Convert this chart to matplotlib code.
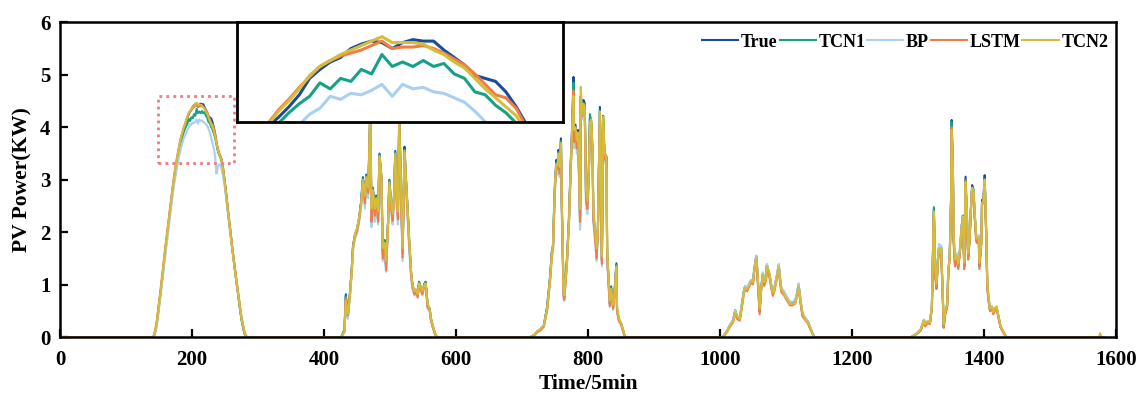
import numpy as np
import matplotlib
matplotlib.use("Agg")
import matplotlib.pyplot as plt
from matplotlib.patches import Rectangle

plt.rcParams['font.family'] = ['Liberation Serif', 'DejaVu Serif']
plt.rcParams['font.weight'] = 'bold'

# ---- data (time index in 5 min steps, power in kW) ----
series_names = ["True", "TCN1", "BP", "LSTM", "TCN2"]
series_colors = ["#1a4c9e", "#16a085", "#a9cff2", "#f07d45", "#d5bd3b"]

# day 1 (clear sky)
t_day1 = np.arange(141, 287, 2)
true_day1 = [0.0, 0.05, 0.15, 0.30, 0.50, 0.72, 0.92, 1.14, 1.37, 1.60,
             1.81, 2.02, 2.23, 2.44, 2.65, 2.86, 3.04, 3.20, 3.36, 3.50,
             3.63, 3.76, 3.87, 3.93, 4.00, 4.08, 4.19, 4.25, 4.30, 4.33,
             4.39, 4.42, 4.44, 4.43, 4.39, 4.43, 4.45, 4.44, 4.44, 4.38,
             4.33, 4.28, 4.21, 4.19, 4.17, 4.10, 4.00, 3.88, 3.72, 3.58,
             3.50, 3.45, 3.38, 3.22, 3.02, 2.82, 2.58, 2.35, 2.15, 1.92,
             1.70, 1.50, 1.30, 1.10, 0.92, 0.72, 0.52, 0.35, 0.22, 0.10,
             0.03, 0.0, 0.0]
tcn1_day1 = [0.0, 0.05, 0.15, 0.30, 0.50, 0.71, 0.91, 1.13, 1.36, 1.58,
             1.79, 2.00, 2.21, 2.42, 2.62, 2.82, 3.00, 3.16, 3.31, 3.45,
             3.58, 3.70, 3.80, 3.89, 3.96, 4.02, 4.07, 4.16, 4.12, 4.19,
             4.17, 4.25, 4.22, 4.35, 4.27, 4.30, 4.27, 4.31, 4.27, 4.29,
             4.22, 4.19, 4.10, 4.08, 4.01, 3.96, 3.89, 3.80, 3.68, 3.56,
             3.48, 3.42, 3.34, 3.19, 2.99, 2.79, 2.56, 2.33, 2.12, 1.90,
             1.68, 1.48, 1.28, 1.08, 0.90, 0.71, 0.51, 0.34, 0.21, 0.10,
             0.03, 0.0, 0.0]
bp_day1 = [0.0, 0.04, 0.12, 0.26, 0.45, 0.66, 0.86, 1.07, 1.29, 1.51,
           1.72, 1.93, 2.14, 2.34, 2.54, 2.73, 2.91, 3.07, 3.22, 3.36,
           3.48, 3.59, 3.69, 3.77, 3.84, 3.88, 3.95, 3.99, 4.07, 4.05,
           4.09, 4.08, 4.11, 4.15, 4.07, 4.15, 4.12, 4.13, 4.10, 4.09,
           4.06, 4.03, 3.97, 3.90, 3.80, 3.70, 3.60, 3.45, 3.12, 3.25,
           3.30, 3.28, 3.20, 3.08, 2.92, 2.73, 2.52, 2.30, 2.10, 1.89,
           1.68, 1.49, 1.30, 1.11, 0.93, 0.75, 0.56, 0.39, 0.26, 0.14,
           0.06, 0.02, 0.0]
lstm_day1 = [0.0, 0.07, 0.19, 0.35, 0.56, 0.78, 0.98, 1.20, 1.43, 1.66,
             1.87, 2.08, 2.29, 2.50, 2.70, 2.90, 3.09, 3.26, 3.41, 3.55,
             3.68, 3.80, 3.89, 3.98, 4.05, 4.13, 4.20, 4.27, 4.31, 4.34,
             4.36, 4.38, 4.41, 4.44, 4.39, 4.40, 4.40, 4.41, 4.39, 4.36,
             4.32, 4.28, 4.22, 4.15, 4.08, 4.06, 3.99, 3.86, 3.72, 3.60,
             3.52, 3.46, 3.37, 3.22, 3.03, 2.83, 2.60, 2.37, 2.16, 1.94,
             1.72, 1.52, 1.32, 1.12, 0.94, 0.75, 0.55, 0.38, 0.25, 0.13,
             0.05, 0.01, 0.0]
tcn2_day1 = [0.0, 0.06, 0.17, 0.33, 0.53, 0.75, 0.95, 1.17, 1.40, 1.63,
             1.84, 2.05, 2.26, 2.47, 2.68, 2.88, 3.07, 3.24, 3.40, 3.54,
             3.67, 3.79, 3.88, 3.97, 4.04, 4.12, 4.21, 4.27, 4.31, 4.35,
             4.38, 4.41, 4.44, 4.47, 4.43, 4.43, 4.43, 4.42, 4.38, 4.35,
             4.30, 4.26, 4.19, 4.12, 4.06, 4.00, 3.94, 3.83, 3.70, 3.58,
             3.50, 3.43, 3.35, 3.20, 3.00, 2.80, 2.57, 2.34, 2.13, 1.90,
             1.69, 1.49, 1.29, 1.09, 0.91, 0.72, 0.53, 0.36, 0.23, 0.12,
             0.04, 0.0, 0.0]

# day 2
t_day2 = [426, 431, 433, 436, 439, 442, 444, 447, 450, 453,
          456, 459, 462, 464, 467, 468, 470, 472, 474, 477,
          479, 482, 484, 487, 489, 492, 494, 497, 499, 502,
          504, 506, 508, 510, 512, 514, 517, 519, 522, 524,
          527, 529, 532, 534, 537, 539, 542, 544, 547, 549,
          552, 554, 557, 560, 562, 565, 568, 571]
true_day2 = [0.0, 0.15, 0.82, 0.38, 0.80, 1.30, 1.75, 1.95, 2.05, 2.25,
             2.55, 3.05, 2.60, 3.10, 2.80, 3.30, 4.30, 2.30, 2.85, 2.40,
             2.70, 2.30, 3.50, 3.05, 1.60, 1.85, 1.35, 2.20, 3.00, 2.50,
             2.30, 2.70, 3.55, 2.70, 2.35, 4.27, 2.68, 1.60, 3.63, 3.06,
             2.36, 1.85, 1.22, 1.00, 0.85, 0.90, 0.80, 1.06, 0.93, 0.85,
             1.02, 1.06, 0.60, 0.55, 0.35, 0.20, 0.08, 0.0]
tcn1_day2 = [0.0, 0.14, 0.78, 0.40, 0.79, 1.29, 1.74, 1.96, 2.06, 2.26,
             2.56, 3.02, 2.62, 3.08, 2.82, 3.28, 4.22, 2.35, 2.83, 2.42,
             2.68, 2.33, 3.48, 3.02, 1.62, 1.84, 1.38, 2.18, 2.98, 2.48,
             2.32, 2.68, 3.52, 2.68, 2.38, 4.18, 2.66, 1.62, 3.58, 3.04,
             2.36, 1.84, 1.22, 1.00, 0.85, 0.90, 0.80, 1.05, 0.92, 0.85,
             1.01, 1.05, 0.60, 0.55, 0.35, 0.20, 0.08, 0.0]
bp_day2 = [0.0, 0.12, 0.70, 0.35, 0.72, 1.20, 1.65, 1.88, 1.98, 2.18,
           2.45, 2.90, 2.45, 2.98, 2.65, 3.15, 4.05, 2.10, 2.70, 2.20,
           2.55, 2.15, 3.35, 2.90, 1.45, 1.70, 1.25, 2.05, 2.85, 2.35,
           2.15, 2.55, 3.40, 2.50, 2.15, 4.05, 2.45, 1.45, 3.45, 2.90,
           2.20, 1.70, 1.12, 0.92, 0.80, 0.85, 0.75, 1.00, 0.88, 0.80,
           0.96, 1.00, 0.55, 0.50, 0.32, 0.18, 0.07, 0.0]
lstm_day2 = [0.0, 0.12, 0.75, 0.42, 0.78, 1.28, 1.72, 1.93, 2.02, 2.22,
             2.52, 2.98, 2.55, 3.05, 2.75, 3.22, 4.20, 2.20, 2.78, 2.32,
             2.62, 2.20, 3.42, 2.95, 1.50, 1.78, 1.28, 2.12, 2.92, 2.42,
             2.22, 2.62, 3.45, 2.60, 2.25, 4.15, 2.58, 1.52, 3.52, 2.98,
             2.28, 1.78, 1.18, 0.96, 0.82, 0.87, 0.77, 1.02, 0.90, 0.82,
             0.98, 1.02, 0.57, 0.52, 0.33, 0.19, 0.07, 0.0]
tcn2_day2 = [0.0, 0.10, 0.70, 0.45, 0.75, 1.25, 1.70, 1.98, 2.08, 2.28,
             2.50, 3.00, 2.70, 3.05, 2.85, 3.25, 4.39, 2.45, 2.80, 2.45,
             2.65, 2.40, 3.45, 3.10, 1.70, 1.80, 1.45, 2.15, 2.95, 2.55,
             2.35, 2.65, 3.50, 2.75, 2.40, 4.10, 2.75, 1.70, 3.55, 3.10,
             2.40, 1.90, 1.25, 1.02, 0.88, 0.92, 0.82, 1.03, 0.95, 0.88,
             1.00, 1.03, 0.65, 0.55, 0.38, 0.22, 0.10, 0.0]

# day 3
t_day3 = [712, 719, 723, 728, 733, 738, 743, 745, 747, 749,
          750, 752, 754, 755, 757, 759, 760, 763, 764, 768,
          771, 774, 776, 778, 779, 781, 783, 785, 788, 789,
          791, 793, 795, 797, 799, 801, 803, 805, 807, 808,
          810, 813, 815, 818, 819, 821, 823, 825, 828, 829,
          833, 835, 838, 840, 843, 844, 847, 850, 855, 857]
true_day3 = [0.0, 0.05, 0.11, 0.15, 0.22, 0.58, 1.22, 1.62, 1.75, 2.62,
             2.93, 3.38, 3.25, 3.57, 3.19, 3.79, 2.74, 0.84, 0.77, 1.47,
             2.23, 3.38, 4.01, 4.96, 3.82, 4.05, 3.69, 3.95, 2.30, 4.60,
             4.33, 4.52, 4.46, 2.74, 2.55, 3.06, 4.20, 4.10, 3.50, 2.36,
             2.11, 1.60, 2.11, 4.39, 3.38, 1.47, 4.10, 3.50, 3.44, 1.60,
             0.65, 0.97, 0.58, 0.84, 1.41, 0.52, 0.33, 0.27, 0.05, 0.0]
tcn1_day3 = [0.0, 0.05, 0.11, 0.15, 0.22, 0.56, 1.20, 1.60, 1.74, 2.58,
             2.90, 3.33, 3.22, 3.53, 3.16, 3.74, 2.70, 0.82, 0.76, 1.45,
             2.20, 3.33, 3.96, 4.85, 3.78, 4.00, 3.65, 3.90, 2.10, 4.55,
             4.28, 4.46, 4.40, 2.70, 2.52, 3.02, 4.25, 4.05, 3.45, 2.32,
             2.08, 1.58, 2.08, 4.32, 3.34, 1.45, 4.22, 3.46, 3.40, 1.58,
             0.64, 0.95, 0.57, 0.82, 1.38, 0.51, 0.32, 0.26, 0.05, 0.0]
bp_day3 = [0.0, 0.04, 0.10, 0.13, 0.20, 0.50, 1.10, 1.50, 1.65, 2.45,
           2.80, 3.20, 3.10, 3.40, 3.05, 3.60, 2.55, 0.75, 0.70, 1.35,
           2.10, 3.20, 3.85, 4.60, 3.60, 3.85, 3.50, 3.75, 2.05, 4.40,
           4.15, 4.30, 4.25, 2.55, 2.35, 2.90, 3.95, 3.90, 3.30, 2.20,
           1.95, 1.45, 1.95, 4.15, 3.20, 1.35, 3.95, 3.35, 3.25, 1.45,
           0.58, 0.88, 0.52, 0.78, 1.30, 0.48, 0.30, 0.24, 0.04, 0.0]
lstm_day3 = [0.0, 0.05, 0.10, 0.14, 0.21, 0.52, 1.15, 1.55, 1.70, 2.50,
             2.88, 3.25, 3.20, 3.48, 3.12, 3.68, 2.65, 0.78, 0.72, 1.40,
             2.15, 3.28, 3.92, 4.70, 3.72, 3.95, 3.60, 3.85, 2.20, 4.55,
             4.22, 4.40, 4.35, 2.60, 2.45, 2.98, 4.05, 4.00, 3.40, 2.25,
             2.00, 1.50, 2.02, 4.25, 3.28, 1.40, 4.00, 3.40, 3.35, 1.52,
             0.60, 0.92, 0.55, 0.80, 1.35, 0.50, 0.31, 0.25, 0.04, 0.0]
tcn2_day3 = [0.0, 0.06, 0.12, 0.16, 0.24, 0.55, 1.18, 1.58, 1.78, 2.55,
             2.98, 3.30, 3.28, 3.50, 3.25, 3.70, 2.85, 0.95, 0.80, 1.40,
             2.18, 3.30, 4.05, 4.60, 3.95, 4.00, 3.75, 3.90, 2.45, 4.77,
             4.25, 4.45, 4.40, 2.85, 2.60, 3.00, 4.10, 4.15, 3.55, 2.45,
             2.15, 1.70, 2.05, 4.30, 3.45, 1.55, 4.20, 3.55, 3.40, 1.70,
             0.70, 0.92, 0.62, 0.80, 1.35, 0.58, 0.36, 0.28, 0.06, 0.0]

# day 4 (overcast)
t_day4 = [1002, 1005, 1010, 1015, 1020, 1023, 1026, 1030, 1033, 1036,
          1038, 1041, 1045, 1047, 1050, 1052, 1055, 1057, 1060, 1062,
          1065, 1067, 1070, 1071, 1075, 1077, 1080, 1082, 1086, 1089,
          1091, 1093, 1097, 1100, 1103, 1106, 1110, 1114, 1117, 1119,
          1122, 1125, 1129, 1133, 1137, 1140, 1143]
true_day4 = [0.0, 0.02, 0.11, 0.23, 0.33, 0.52, 0.39, 0.36, 0.62, 0.87,
             0.97, 0.93, 1.03, 1.09, 1.06, 1.31, 1.54, 1.16, 0.49, 0.90,
             1.22, 1.03, 1.16, 1.38, 1.19, 1.03, 0.84, 0.90, 1.16, 1.38,
             1.09, 0.90, 0.84, 0.77, 0.71, 0.65, 0.65, 0.68, 0.84, 1.00,
             0.68, 0.43, 0.36, 0.30, 0.17, 0.08, 0.0]
tcn1_day4 = [0.0, 0.02, 0.11, 0.23, 0.33, 0.50, 0.39, 0.36, 0.61, 0.86,
             0.97, 0.94, 1.03, 1.09, 1.06, 1.30, 1.55, 1.17, 0.50, 0.90,
             1.22, 1.04, 1.17, 1.38, 1.19, 1.04, 0.85, 0.91, 1.16, 1.37,
             1.10, 0.92, 0.86, 0.79, 0.73, 0.67, 0.67, 0.70, 0.85, 1.01,
             0.70, 0.44, 0.37, 0.30, 0.17, 0.08, 0.0]
bp_day4 = [0.0, 0.03, 0.12, 0.24, 0.34, 0.52, 0.41, 0.38, 0.63, 0.88,
           0.98, 0.95, 1.05, 1.10, 1.08, 1.32, 1.56, 1.19, 0.52, 0.92,
           1.24, 1.06, 1.18, 1.40, 1.21, 1.06, 0.87, 0.93, 1.18, 1.40,
           1.12, 0.94, 0.88, 0.80, 0.74, 0.68, 0.68, 0.72, 0.88, 1.03,
           0.72, 0.46, 0.38, 0.31, 0.18, 0.09, 0.0]
lstm_day4 = [0.0, 0.01, 0.09, 0.20, 0.29, 0.46, 0.35, 0.32, 0.56, 0.82,
             0.92, 0.88, 0.98, 1.04, 1.01, 1.26, 1.49, 1.10, 0.44, 0.85,
             1.18, 0.98, 1.10, 1.33, 1.14, 0.98, 0.79, 0.86, 1.10, 1.32,
             1.04, 0.86, 0.80, 0.73, 0.67, 0.61, 0.61, 0.64, 0.80, 0.96,
             0.64, 0.40, 0.33, 0.27, 0.15, 0.07, 0.0]
tcn2_day4 = [0.0, 0.02, 0.10, 0.22, 0.31, 0.48, 0.40, 0.35, 0.58, 0.84,
             0.95, 0.92, 1.00, 1.07, 1.05, 1.28, 1.52, 1.20, 0.55, 0.86,
             1.20, 1.05, 1.12, 1.35, 1.22, 1.02, 0.85, 0.88, 1.12, 1.34,
             1.12, 0.92, 0.82, 0.75, 0.70, 0.64, 0.63, 0.66, 0.80, 0.97,
             0.70, 0.45, 0.35, 0.29, 0.17, 0.08, 0.0]

# day 5
t_day5 = [1289, 1299, 1304, 1309, 1311, 1315, 1318, 1321, 1324, 1326,
          1328, 1330, 1332, 1334, 1335, 1338, 1339, 1341, 1344, 1346,
          1348, 1350, 1351, 1353, 1354, 1356, 1359, 1361, 1364, 1366,
          1368, 1370, 1372, 1374, 1376, 1378, 1380, 1382, 1384, 1386,
          1388, 1389, 1392, 1393, 1396, 1397, 1399, 1401, 1403, 1405,
          1407, 1409, 1412, 1414, 1417, 1419, 1422, 1425, 1429, 1434]
true_day5 = [0.0, 0.08, 0.14, 0.33, 0.23, 0.30, 0.27, 0.58, 2.43, 1.22,
             0.97, 1.47, 1.73, 1.60, 1.73, 0.58, 0.20, 0.46, 0.58, 1.28,
             1.54, 2.62, 4.14, 3.00, 1.85, 1.41, 1.54, 1.35, 1.73, 2.11,
             2.30, 1.35, 3.06, 2.30, 1.54, 1.85, 2.43, 2.90, 2.81, 2.30,
             1.92, 1.85, 1.92, 1.35, 1.85, 2.62, 2.62, 3.09, 2.11, 0.97,
             0.71, 0.52, 0.58, 0.46, 0.55, 0.58, 0.39, 0.20, 0.11, 0.0]
tcn1_day5 = [0.0, 0.08, 0.14, 0.32, 0.24, 0.30, 0.27, 0.60, 2.48, 1.25,
             1.00, 1.45, 1.75, 1.62, 1.70, 0.62, 0.24, 0.48, 0.60, 1.25,
             1.55, 2.58, 4.10, 3.05, 1.90, 1.45, 1.55, 1.38, 1.72, 2.10,
             2.32, 1.40, 3.00, 2.35, 1.58, 1.85, 2.40, 2.85, 2.80, 2.32,
             1.95, 1.88, 1.90, 1.40, 1.85, 2.58, 2.60, 3.02, 2.15, 1.00,
             0.73, 0.54, 0.58, 0.47, 0.55, 0.57, 0.39, 0.20, 0.11, 0.0]
bp_day5 = [0.0, 0.09, 0.16, 0.34, 0.26, 0.32, 0.29, 0.62, 2.35, 1.30,
           1.05, 1.50, 1.78, 1.65, 1.75, 0.65, 0.28, 0.52, 0.65, 1.30,
           1.58, 2.55, 3.95, 3.05, 1.95, 1.50, 1.60, 1.42, 1.78, 2.12,
           2.30, 1.45, 2.95, 2.38, 1.62, 1.90, 2.42, 2.82, 2.78, 2.35,
           1.98, 1.90, 1.95, 1.45, 1.88, 2.55, 2.58, 3.00, 2.18, 1.05,
           0.76, 0.56, 0.60, 0.49, 0.57, 0.59, 0.41, 0.22, 0.12, 0.0]
lstm_day5 = [0.0, 0.07, 0.13, 0.30, 0.21, 0.28, 0.25, 0.55, 2.35, 1.15,
             0.92, 1.40, 1.68, 1.55, 1.68, 0.55, 0.18, 0.42, 0.55, 1.22,
             1.50, 2.55, 4.00, 2.90, 1.78, 1.35, 1.48, 1.30, 1.68, 2.05,
             2.25, 1.30, 2.98, 2.22, 1.48, 1.80, 2.38, 2.85, 2.75, 2.25,
             1.85, 1.80, 1.85, 1.30, 1.80, 2.55, 2.55, 3.00, 2.05, 0.92,
             0.68, 0.50, 0.55, 0.44, 0.52, 0.55, 0.37, 0.19, 0.10, 0.0]
tcn2_day5 = [0.0, 0.08, 0.15, 0.33, 0.25, 0.31, 0.28, 0.60, 2.40, 1.28,
             1.02, 1.45, 1.70, 1.62, 1.70, 0.65, 0.25, 0.48, 0.62, 1.28,
             1.52, 2.55, 3.95, 3.10, 1.95, 1.48, 1.55, 1.40, 1.70, 2.08,
             2.28, 1.42, 2.95, 2.38, 1.60, 1.85, 2.40, 2.85, 2.78, 2.35,
             1.95, 1.88, 1.90, 1.42, 1.82, 2.55, 2.58, 3.00, 2.15, 1.02,
             0.74, 0.55, 0.58, 0.48, 0.56, 0.58, 0.40, 0.21, 0.12, 0.0]

# night values around the days (zero output)
t_head, t_tail = [0], [1574, 1576, 1578, 1581]
zero_head, zero_tail = [0.0], [0.0, 0.0, 0.0, 0.0]
tcn2_tail = [0.0, 0.08, 0.0, 0.0]


def join(*parts):
    return np.concatenate([np.asarray(p, dtype=float) for p in parts])


t_all = join(t_head, t_day1, t_day2, t_day3, t_day4, t_day5, t_tail)
values = [
    join(zero_head, true_day1, true_day2, true_day3, true_day4, true_day5, zero_tail),
    join(zero_head, tcn1_day1, tcn1_day2, tcn1_day3, tcn1_day4, tcn1_day5, zero_tail),
    join(zero_head, bp_day1, bp_day2, bp_day3, bp_day4, bp_day5, zero_tail),
    join(zero_head, lstm_day1, lstm_day2, lstm_day3, lstm_day4, lstm_day5, zero_tail),
    join(zero_head, tcn2_day1, tcn2_day2, tcn2_day3, tcn2_day4, tcn2_day5, tcn2_tail),
]

fig = plt.figure(figsize=(11.43, 3.96), dpi=100)
ax = fig.add_axes([0.0525, 0.148, 0.9239, 0.7957])

for name, col, y in zip(series_names, series_colors, values):
    ax.plot(t_all, y, color=col, lw=1.5, label=name)

ax.set_xlim(0, 1600)
ax.set_ylim(0, 6)
ax.set_xticks(np.arange(0, 1601, 200))
ax.set_yticks(np.arange(0, 7, 1))
ax.tick_params(direction='in', length=6, width=1.6, labelsize=15, pad=7)
ax.tick_params(axis='x', pad=9)
for lab in ax.get_xticklabels() + ax.get_yticklabels():
    lab.set_fontweight('bold')
for sp in ax.spines.values():
    sp.set_linewidth(1.8)
ax.set_xlabel("Time/5min", fontsize=15.5, fontweight='bold', labelpad=3)
ax.set_ylabel("PV Power(KW)", fontsize=15.5, fontweight='bold', labelpad=5)

# dotted box marking the zoomed region
ax.add_patch(Rectangle((149, 3.33), 115, 1.27, fill=False, ls=(0, (1, 1.5)),
                       lw=2, ec="#f27a7a", zorder=5))

leg = ax.legend(loc='upper right', ncol=5, frameon=False, bbox_to_anchor=(1.008, 1.015),
                handlelength=2.0, handletextpad=0.15, columnspacing=0.1,
                prop={'family': 'Liberation Serif', 'weight': 'bold', 'size': 13})

# zoomed inset
axin = fig.add_axes([0.2076, 0.6927, 0.2847, 0.2525])
for col, y in zip(series_colors, values):
    axin.plot(t_all, y, color=col, lw=2.2)
axin.set_xlim(179, 242)
axin.set_ylim(3.9, 4.57)
axin.set_xticks([])
axin.set_yticks([])
for sp in axin.spines.values():
    sp.set_linewidth(2)

fig.savefig("out.png", dpi=100)
